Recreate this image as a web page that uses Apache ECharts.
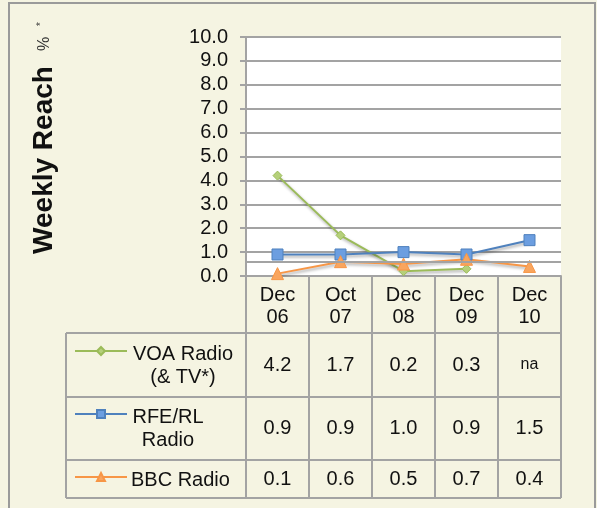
<!DOCTYPE html>
<html>
<head>
<meta charset="utf-8">
<script src="https://cdn.jsdelivr.net/npm/echarts@6/dist/echarts.min.js"></script>
<style>
html, body { margin: 0; padding: 0; background: #f5f4e2; }
#chart { width: 597px; height: 508px; }
</style>
</head>
<body>
<div id="chart"></div>
<script>
var categories = ['Dec\n06', 'Oct\n07', 'Dec\n08', 'Dec\n09', 'Dec\n10'];
var seriesNames = ['VOA Radio (& TV*)', 'RFE/RL Radio', 'BBC Radio'];
var rowLabels = ['VOA Radio\n(& TV*)', 'RFE/RL\nRadio', 'BBC Radio'];
var voaValues = [4.2, 1.7, 0.2, 0.3, null];
var rfeValues = [0.9, 0.9, 1.0, 0.9, 1.5];
var bbcValues = [0.1, 0.6, 0.5, 0.7, 0.4];
var extraLine = 0.6;

var green = '#9bbb59', blue = '#4f81bd', orange = '#f79646';
var gray = '#a3a3a3';
var font = '"Liberation Sans", Arial, sans-serif';

var chart = echarts.init(document.getElementById('chart'));

var shadow = { shadowBlur: 3, shadowColor: 'rgba(0,0,0,0.35)', shadowOffsetX: 1, shadowOffsetY: 2 };

function lineSeries(name, data, color, symbol, size, fill) {
    return {
        name: name,
        type: 'line',
        data: data,
        symbol: symbol,
        symbolSize: size,
        connectNulls: false,
        lineStyle: Object.assign({ color: color, width: 2 }, shadow),
        itemStyle: { color: fill, borderColor: color, borderWidth: 1 },
        z: 3
    };
}

var series = [
    lineSeries(seriesNames[0], voaValues, green, 'diamond', 9, '#b5d07a'),
    lineSeries(seriesNames[1], rfeValues, blue, 'rect', 11, '#6c9ee0'),
    lineSeries(seriesNames[2], bbcValues, orange, 'triangle', 12, '#f9a55e')
];
series[1].markLine = {
    silent: true,
    symbol: 'none',
    label: { show: false },
    lineStyle: { color: gray, width: 2, type: 'solid' },
    data: [{ yAxis: extraLine }]
};

var legendCenters = [351, 414, 477];
var legends = seriesNames.map(function (n, i) {
    return {
        data: [n],
        left: 74,
        top: legendCenters[i] - 5,
        padding: 0,
        itemWidth: 52,
        itemHeight: 10,
        formatter: function () { return ''; },
        selectedMode: false
    };
});

chart.setOption({
    animation: false,
    backgroundColor: '#f5f4e2',
    textStyle: { fontFamily: font },
    legend: legends,
    grid: {
        left: 246, right: 36, top: 37, bottom: 232,
        show: true, backgroundColor: '#ffffff', borderWidth: 0
    },
    xAxis: {
        type: 'category',
        data: categories,
        boundaryGap: true,
        axisLine: { lineStyle: { color: gray, width: 2 } },
        axisTick: { show: true, length: 57, interval: 0, lineStyle: { color: gray, width: 2 } },
        axisLabel: { fontSize: 20, lineHeight: 22, margin: 8, color: '#111', interval: 0 }
    },
    yAxis: {
        type: 'value',
        min: 0,
        max: 10,
        interval: 1,
        axisLine: { show: true, lineStyle: { color: gray, width: 2 } },
        axisTick: { show: true, length: 6, lineStyle: { color: gray, width: 2 } },
        axisLabel: { fontSize: 20, margin: 18, color: '#111', formatter: function (v) { return v.toFixed(1); } },
        splitLine: { lineStyle: { color: gray, width: 2 } }
    },
    series: series
});

// data table under the axis
var c0 = chart.convertToPixel({ xAxisIndex: 0 }, 0);
var c1 = chart.convertToPixel({ xAxisIndex: 0 }, 1);
var band = c1 - c0;
var tableLeft = 66;
var tableRight = c0 - band / 2 + band * categories.length;
var rowEdges = [333, 397, 460, 498];
var tableRows = [voaValues, rfeValues, bbcValues];
var labelX = [183, 168, 131];
var labelAlign = ['center', 'center', 'left'];
var labelY = [366, 429, 480];

var graphics = [];
graphics.push({
    type: 'rect', shape: { x: 9, y: 3, width: 586, height: 520 }, z: -10,
    style: { fill: 'none', stroke: '#9a9a9a', lineWidth: 2 }, silent: true
});
rowEdges.forEach(function (y) {
    graphics.push({ type: 'line', shape: { x1: tableLeft, y1: y, x2: tableRight, y2: y },
        style: { stroke: gray, lineWidth: 2 }, silent: true });
});
var vx = [tableLeft];
for (var k = 0; k <= categories.length; k++) vx.push(c0 - band / 2 + band * k);
vx.forEach(function (x) {
    graphics.push({ type: 'line', shape: { x1: x, y1: rowEdges[0], x2: x, y2: rowEdges[3] },
        style: { stroke: gray, lineWidth: 2 }, silent: true });
});
tableRows.forEach(function (vals, r) {
    var cy = (rowEdges[r] + rowEdges[r + 1]) / 2;
    vals.forEach(function (v, i) {
        var cx = chart.convertToPixel({ xAxisIndex: 0 }, i);
        graphics.push({ type: 'text', x: cx, y: cy, silent: true,
            style: { text: v == null ? 'na' : v.toFixed(1), fontSize: v == null ? 16 : 20,
                fontFamily: font, fill: '#111', align: 'center', verticalAlign: 'middle' } });
    });
    graphics.push({ type: 'text', x: labelX[r], y: labelY[r], silent: true,
        style: { text: rowLabels[r], fontSize: 20, lineHeight: 23, fontFamily: font, fill: '#111',
            align: labelAlign[r], verticalAlign: 'middle' } });
});
// y axis title
graphics.push({ type: 'text', x: 44, y: 160, rotation: Math.PI / 2, silent: true,
    style: { text: 'Weekly Reach', fontSize: 28, fontWeight: 'bold', fontFamily: font, fill: '#111',
        align: 'center', verticalAlign: 'middle' } });
graphics.push({ type: 'text', x: 45, y: 44, rotation: Math.PI / 2, silent: true,
    style: { text: '%', fontSize: 16, fontFamily: font, fill: '#333', align: 'center', verticalAlign: 'middle' } });
graphics.push({ type: 'text', x: 41, y: 24, rotation: Math.PI / 2, silent: true,
    style: { text: '*', fontSize: 10, fontFamily: font, fill: '#333', align: 'center', verticalAlign: 'middle' } });

chart.setOption({ graphic: graphics });
</script>
</body>
</html>
